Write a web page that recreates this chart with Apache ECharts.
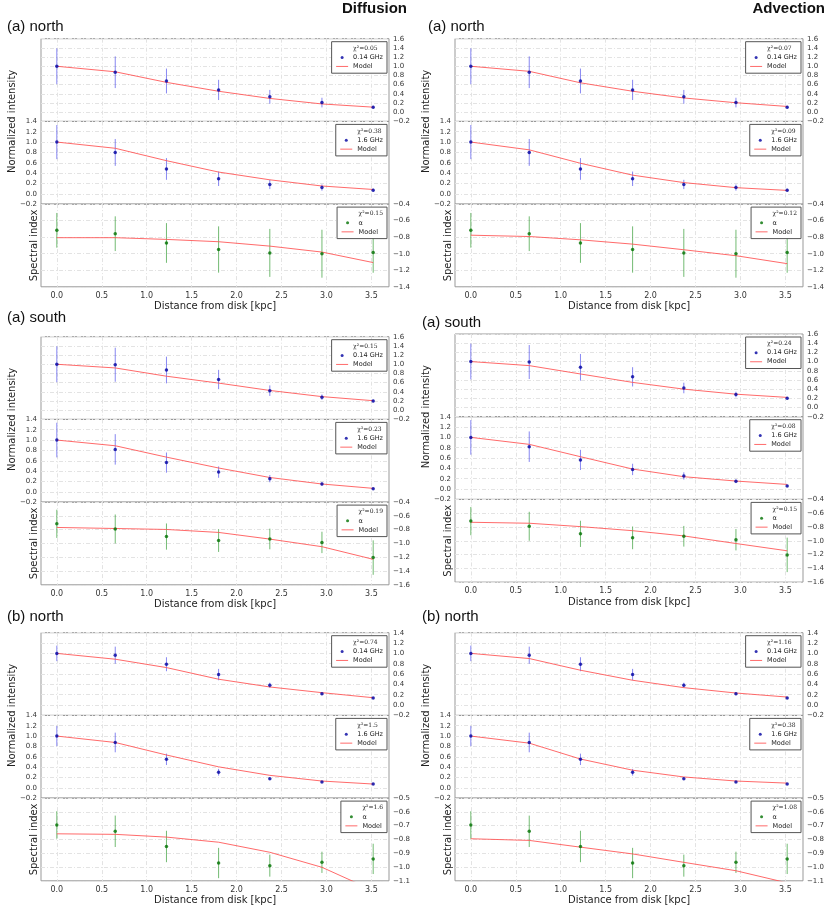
<!DOCTYPE html>
<html><head><meta charset="utf-8">
<script src="https://cdn.jsdelivr.net/npm/echarts@6/dist/echarts.min.js"></script>
<style>html,body{margin:0;padding:0;background:#fff}#c{width:830px;height:910px}</style>
</head><body><div id="c"></div>
<script>
// ---------------- data ----------------
const distance = [0, 0.65, 1.22, 1.8, 2.37, 2.95, 3.52];
const xTicks = [0, 0.5, 1, 1.5, 2, 2.5, 3, 3.5];

// observations (shared by both models)
const aNorthLow      = [1.0, 0.87, 0.68, 0.485, 0.335, 0.21, 0.11];
const aNorthLowErr   = [0.39, 0.345, 0.27, 0.22, 0.15, 0.105, 0.03];
const aNorthHigh     = [1.0, 0.80, 0.48, 0.29, 0.18, 0.12, 0.07];
const aNorthHighErr  = [0.33, 0.26, 0.21, 0.14, 0.09, 0.06, 0.03];
const aNorthAlpha    = [-0.717, -0.758, -0.87, -0.949, -0.99, -1.0, -0.985];
const aNorthAlphaErr = [0.21, 0.21, 0.24, 0.28, 0.29, 0.29, 0.245];

const aSouthLow      = [1.0, 0.99, 0.875, 0.668, 0.425, 0.283, 0.2];
const aSouthLowErr   = [0.39, 0.37, 0.29, 0.21, 0.115, 0.06, 0.03];
const aSouthHigh     = [1.0, 0.82, 0.564, 0.38, 0.254, 0.15, 0.06];
const aSouthHighErr  = [0.335, 0.295, 0.195, 0.11, 0.07, 0.035, 0.02];
const aSouthAlpha    = [-0.715, -0.79, -0.9, -0.958, -0.935, -0.985, -1.205];
const aSouthAlphaErr = [0.205, 0.21, 0.19, 0.165, 0.15, 0.155, 0.25];

const bNorthLow      = [1.0, 0.965, 0.79, 0.59, 0.382, 0.22, 0.136];
const bNorthLowErr   = [0.15, 0.165, 0.135, 0.11, 0.05, 0.03, 0.015];
const bNorthHigh     = [1.0, 0.876, 0.55, 0.30, 0.176, 0.111, 0.072];
const bNorthHighErr  = [0.195, 0.19, 0.11, 0.065, 0.02, 0.015, 0.01];
const bNorthAlpha    = [-0.695, -0.741, -0.851, -0.971, -0.99, -0.966, -0.941];
const bNorthAlphaErr = [0.1, 0.114, 0.114, 0.11, 0.08, 0.077, 0.11];

// models
const difANorthLow   = [1.0, 0.88, 0.65, 0.456, 0.30, 0.18, 0.11];
const difANorthHigh  = [1.0, 0.88, 0.64, 0.42, 0.27, 0.15, 0.083];
const difANorthAlpha = [-0.806, -0.806, -0.827, -0.855, -0.908, -0.98, -1.107];
const advANorthLow   = [1.0, 0.89, 0.64, 0.456, 0.31, 0.206, 0.125];
const advANorthHigh  = [1.0, 0.85, 0.59, 0.36, 0.216, 0.118, 0.065];
const advANorthAlpha = [-0.776, -0.792, -0.832, -0.884, -0.952, -1.024, -1.12];

const difASouthLow   = [1.0, 0.92, 0.74, 0.59, 0.43, 0.296, 0.207];
const difASouthHigh  = [1.0, 0.89, 0.67, 0.46, 0.276, 0.15, 0.066];
const difASouthAlpha = [-0.768, -0.783, -0.797, -0.84, -0.937, -1.047, -1.23];
const advASouthLow   = [1.0, 0.912, 0.73, 0.547, 0.40, 0.29, 0.22];
const advASouthHigh  = [1.0, 0.865, 0.626, 0.387, 0.239, 0.155, 0.09];
const advASouthAlpha = [-0.732, -0.746, -0.795, -0.854, -0.93, -1.04, -1.146];

const difBNorthLow   = [1.0, 0.887, 0.725, 0.5, 0.35, 0.24, 0.142];
const difBNorthHigh  = [1.0, 0.876, 0.634, 0.405, 0.24, 0.13, 0.072];
const difBNorthAlpha = [-0.759, -0.763, -0.783, -0.82, -0.893, -1.002, -1.17];
const advBNorthLow   = [1.0, 0.9, 0.674, 0.48, 0.337, 0.233, 0.155];
const advBNorthHigh  = [1.0, 0.863, 0.556, 0.34, 0.209, 0.13, 0.09];
const advBNorthAlpha = [-0.795, -0.807, -0.856, -0.905, -0.966, -1.027, -1.115];

// chi-square labels
const chiDif = [['0.05', '0.38', '0.15'], ['0.15', '0.23', '0.19'], ['0.74', '1.5', '1.6']];
const chiAdv = [['0.07', '0.09', '0.12'], ['0.24', '0.08', '0.15'], ['1.16', '0.38', '1.08']];

const columnTitles = ['Diffusion', 'Advection'];
const panelTitles = ['(a) north', '(a) south', '(b) north'];
const seriesNames = ['0.14 GHz', '1.6 GHz', 'α'];

// ---------------- layout ----------------
const W = 830;
const colLeft = [41, 455];
const gridW = 348;
const subH = 82.7;
const rowTop = [[38.7, 336.7, 632.7], [38.7, 334, 632.7]];
const xMin = -0.176, xMax = 3.696;
const FONT = 'DejaVu Sans';
const GRIDLINE = {show: true, lineStyle: {color: '#e3e3e3', width: 1, type: [4, 2, 1, 2]}};

const obs = [
  [[aNorthLow, aNorthLowErr], [aNorthHigh, aNorthHighErr], [aNorthAlpha, aNorthAlphaErr]],
  [[aSouthLow, aSouthLowErr], [aSouthHigh, aSouthHighErr], [aSouthAlpha, aSouthAlphaErr]],
  [[bNorthLow, bNorthLowErr], [bNorthHigh, bNorthHighErr], [bNorthAlpha, bNorthAlphaErr]]
];
const models = [
  [[difANorthLow, difANorthHigh, difANorthAlpha], [difASouthLow, difASouthHigh, difASouthAlpha], [difBNorthLow, difBNorthHigh, difBNorthAlpha]],
  [[advANorthLow, advANorthHigh, advANorthAlpha], [advASouthLow, advASouthHigh, advASouthAlpha], [advBNorthLow, advBNorthHigh, advBNorthAlpha]]
];
const yRanges = [
  [[-0.2, 1.6, 0.2], [-0.2, 1.4, 0.2], [-1.4, -0.4, 0.2]],
  [[-0.2, 1.6, 0.2], [-0.2, 1.4, 0.2], [-1.6, -0.4, 0.2]],
  [[-0.2, 1.4, 0.2], [-0.2, 1.4, 0.2], [-1.1, -0.5, 0.1]]
];

function fmt(v) {
  const s = Math.abs(v).toFixed(1);
  return (v < -1e-9 ? '\u2212' : '') + s;
}

const option = {
  animation: false, backgroundColor: '#fff',
  grid: [], xAxis: [], yAxis: [], series: [], legend: [], graphic: []
};

for (let c = 0; c < 2; c++) {
  for (let r = 0; r < 3; r++) {
    const chis = c === 0 ? chiDif[r] : chiAdv[r];
    for (let k = 0; k < 3; k++) {
      const gi = option.grid.length;
      const top = rowTop[c][r] + k * subH;
      const [ymin, ymax, yint] = yRanges[r][k];
      const [vals, errs] = obs[r][k];
      const mod = models[c][r][k];
      const isAlpha = k === 2;
      const ptColor = isAlpha ? '#007000' : '#0000a0';
      const barColor = isAlpha ? 'rgba(40,150,40,0.65)' : 'rgba(70,70,235,0.65)';
      option.grid.push({left: colLeft[c], top: top, width: gridW, height: subH,
        show: true, borderColor: '#999', borderWidth: 1, backgroundColor: 'transparent'});
      option.xAxis.push({
        gridIndex: gi, type: 'value', min: xMin, max: xMax, splitNumber: 8,
        axisLine: {show: false},
        axisTick: {show: false, customValues: xTicks},
        axisLabel: {show: isAlpha, customValues: xTicks, fontFamily: FONT, fontSize: 8, color: '#333', margin: 5,
          formatter: v => v.toFixed(1)},
        splitLine: GRIDLINE,
        name: isAlpha ? 'Distance from disk [kpc]' : '', nameLocation: 'middle', nameGap: 15,
        nameTextStyle: {fontFamily: FONT, fontSize: 10, color: '#222'}
      });
      option.yAxis.push({
        gridIndex: gi, type: 'value', min: ymin, max: ymax, interval: yint,
        position: k === 1 ? 'left' : 'right',
        axisLine: {show: false}, axisTick: {show: false},
        axisLabel: {fontFamily: FONT, fontSize: 7, color: '#333', margin: 4, formatter: fmt},
        splitLine: GRIDLINE
      });
      const chiName = '\u03c7\u00b2=' + chis[k];
      option.series.push({type: 'line', name: chiName, xAxisIndex: gi, yAxisIndex: gi, data: [], silent: true});
      option.series.push({
        type: 'custom', xAxisIndex: gi, yAxisIndex: gi, z: 2, silent: true, clip: true,
        data: distance.map((x, j) => [x, vals[j] - errs[j], vals[j] + errs[j]]),
        renderItem: (params, api) => {
          const p1 = api.coord([api.value(0), api.value(1)]);
          const p2 = api.coord([api.value(0), api.value(2)]);
          return {type: 'line', shape: {x1: p1[0], y1: p1[1], x2: p2[0], y2: p2[1]},
            style: {stroke: barColor, lineWidth: 1}};
        }
      });
      option.series.push({
        type: 'line', name: 'Model', xAxisIndex: gi, yAxisIndex: gi, z: 3, silent: true,
        showSymbol: false, symbol: 'none', clip: true,
        data: distance.map((x, j) => [x, mod[j]]),
        lineStyle: {color: 'rgba(255,80,80,0.85)', width: 1}, itemStyle: {color: 'rgba(255,80,80,0.85)'}
      });
      option.series.push({
        type: 'scatter', name: seriesNames[k], xAxisIndex: gi, yAxisIndex: gi, z: 4, silent: true,
        symbol: 'circle', symbolSize: 3.5,
        data: distance.map((x, j) => [x, vals[j]]),
        itemStyle: {color: ptColor}
      });
      option.legend.push({
        orient: 'vertical', right: W - (colLeft[c] + gridW) + 2, top: top + 3,
        backgroundColor: '#fff', borderColor: '#555', borderWidth: 1, borderRadius: 0,
        padding: [3, 4, 3, 4], itemGap: 1.5, itemWidth: 12, itemHeight: 3,
        selectedMode: false,
        textStyle: {fontFamily: FONT, fontSize: 6.5, color: '#222', lineHeight: 7.5},
        data: [
          {name: chiName, icon: 'rect', itemStyle: {color: 'rgba(0,0,0,0)', borderWidth: 0},
            textStyle: {fontFamily: 'DejaVu Serif', fontSize: 6, color: '#222'}},
          {name: seriesNames[k], icon: 'circle', itemStyle: {color: ptColor}},
          {name: 'Model', itemStyle: {opacity: 0}, lineStyle: {color: 'rgba(255,80,80,0.85)', width: 1}}
        ]
      });
    }
    // panel title
    const titleX = c === 0 ? 7 : (r === 0 ? 428 : 422);
    const titleY = [[26.7, 318.3, 617.3], [26.7, 322.7, 617.3]][c][r];
    option.graphic.push({type: 'text', x: titleX, y: titleY, silent: true,
      style: {text: panelTitles[r], font: '15px "Liberation Sans"', fill: '#111', textVerticalAlign: 'middle'}});
    // y-axis titles
    option.graphic.push({type: 'text', x: colLeft[c] - 28.3, y: rowTop[c][r] + subH, rotation: Math.PI / 2, silent: true,
      style: {text: 'Normalized intensity', font: '10px "DejaVu Sans"', fill: '#222', textAlign: 'center', textVerticalAlign: 'middle'}});
    option.graphic.push({type: 'text', x: colLeft[c] - 7, y: rowTop[c][r] + 2.5 * subH, rotation: Math.PI / 2, silent: true,
      style: {text: 'Spectral index', font: '10px "DejaVu Sans"', fill: '#222', textAlign: 'center', textVerticalAlign: 'middle'}});
  }
  option.graphic.push({type: 'text', x: c === 0 ? 407 : 825, y: 9, silent: true,
    style: {text: columnTitles[c], font: 'bold 15px "Liberation Sans"', fill: '#111', textAlign: 'right', textVerticalAlign: 'middle'}});
}

const chart = echarts.init(document.getElementById('c'), null, {renderer: 'canvas'});
chart.setOption(option);
</script>
</body></html>
